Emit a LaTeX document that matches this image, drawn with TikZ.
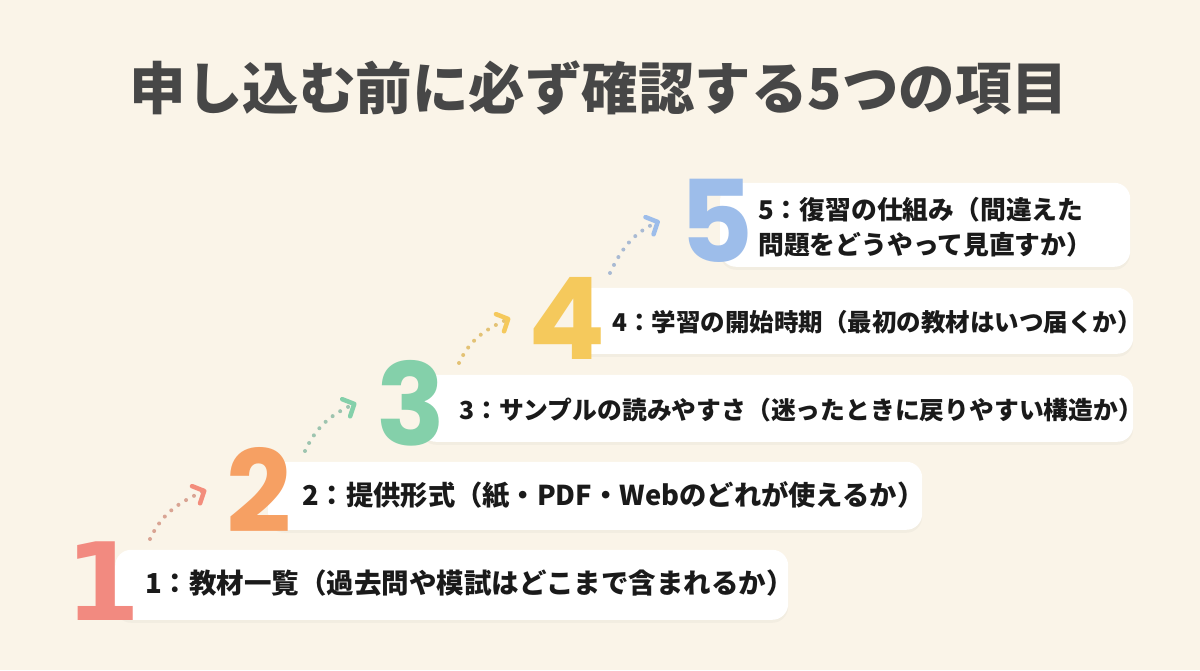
\documentclass[tikz,border=0pt]{standalone}
\usepackage{fontspec}
\setmainfont{Noto Sans CJK JP}
\newfontfamily\numfont{Poppins}
\newfontfamily\onefont{DejaVu Sans}
\usetikzlibrary{arrows.meta,shadows}
\definecolor{bgcream}{HTML}{FAF4E8}
\definecolor{titlegray}{HTML}{474747}
\definecolor{inkblack}{HTML}{1A1A1A}
\definecolor{numpink}{HTML}{F28A80}
\definecolor{numorange}{HTML}{F6A063}
\definecolor{numgreen}{HTML}{84D0AA}
\definecolor{numyellow}{HTML}{F5C95C}
\definecolor{numblue}{HTML}{9DBDEA}
\definecolor{dotpink}{HTML}{D9A493}
\definecolor{dotgreen}{HTML}{9DC4AF}
\definecolor{dotyellow}{HTML}{E3C275}
\definecolor{dotblue}{HTML}{A9BAD3}
\tikzset{
  itembox/.style={draw=none, fill=white, rounded corners=16pt, anchor=south west, inner sep=0pt,
    drop shadow={opacity=0.06, shadow xshift=0pt, shadow yshift=-3pt}},
  itemtext/.style={anchor=west, inner sep=0pt, align=left, text=inkblack,
    font=\fontsize{#1}{35}\selectfont\bfseries},
  itemtext/.default=25,
  bignum/.style={inner sep=0pt, font=\numfont\fontsize{114}{114}\selectfont\bfseries},
  hop/.style={line width=4pt, line cap=round, dash pattern=on 0pt off 9pt, color=#1},
  hoptip/.style={-{Straight Barb[length=9pt, width=19pt, line width=4.5pt, round, color=#1]}}
}

\begin{document}
\begin{tikzpicture}[x=1pt, y=1pt]
  \fill[bgcream] (0,0) rectangle (1200,670);
  \useasboundingbox (0,0) rectangle (1200,670);

  \node[font=\fontsize{56.5}{62}\selectfont\bfseries, text=titlegray] (title) at (599,582)
    {申し込む前に必ず確認する5つの項目};

  % cards
  \node[itembox, minimum width=673pt, minimum height=70pt] (box1) at (115,50) {};
  \node[itembox, minimum width=654pt, minimum height=68pt] (box2) at (268,140) {};
  \node[itembox, minimum width=713pt, minimum height=67pt] (box3) at (420,228) {};
  \node[itembox, minimum width=560pt, minimum height=66pt] (box4) at (573,316) {};
  \node[itembox, minimum width=410pt, minimum height=84pt] (box5) at (720,403) {};

  \node[itemtext=27.5] (txt1) at (145,87) {1：教材一覧（過去問や模試はどこまで含まれるか）};
  \node[itemtext=27.3] (txt2) at (302,175) {2：提供形式（紙・PDF・Webのどれが使えるか）};
  \node[itemtext=24.8] (txt3) at (459,260) {3：サンプルの読みやすさ（迷ったときに戻りやすい構造か）};
  \node[itemtext=24.5] (txt4) at (612,348) {4：学習の開始時期（最初の教材はいつ届くか）};
  \node[itemtext=25.8] (txt5) at (758,443)
    {5：復習の仕組み（間違えた\\問題をどうやって見直すか）};

  % big step numbers
  \node[bignum, font=\onefont\fontsize{108}{108}\selectfont\bfseries, text=numpink] (num1) at (103,89) {1};
  \node[bignum, text=numorange] (num2) at (259,180) {2};
  \node[bignum, text=numgreen] (num3) at (411,267) {3};
  \node[bignum, text=numyellow] (num4) at (567,352) {4};
  \node[bignum, text=numblue] (num5) at (717,449) {5};

  % dotted hops between steps
  \draw[hop=dotpink, hoptip=numpink!85!numorange]
    ([shift={(47,42)}]num1.center) to[out=65, in=205] ([xshift=-20pt]num2.west);
  \draw[hop=dotgreen, hoptip=numgreen]
    ([shift={(46,39)}]num2.center) to[out=65, in=205] ([xshift=-20pt]num3.west);
  \draw[hop=dotyellow, hoptip=numyellow]
    ([shift={(48,40)}]num3.center) to[out=65, in=205] ([xshift=-18pt]num4.west);
  \draw[hop=dotblue, hoptip=numblue]
    ([shift={(43,45)}]num4.center) to[out=65, in=205] ([xshift=-20pt]num5.west);
\end{tikzpicture}
\end{document}
